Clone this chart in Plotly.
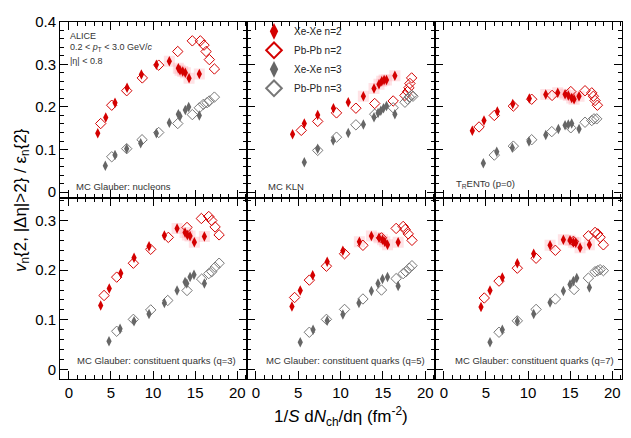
import plotly.graph_objects as go

# ---------------- data ----------------
# Panel order: nucleons, KLN, TRENTo, q=3, q=5, q=7
panel_labels = ["MC Glauber: nucleons", "MC KLN", "T<sub>R</sub>ENTo (p=0)",
                "MC Glauber: constituent quarks (q=3)",
                "MC Glauber: constituent quarks (q=5)",
                "MC Glauber: constituent quarks (q=7)"]

# Xe-Xe n=2
xe2_x = [
    [3.43, 4.38, 5.48, 6.91, 8.61, 10.39, 11.93, 13.0, 13.2, 13.52, 13.83, 14.27, 15.49],
    [4.33, 5.72, 7.30, 9.16, 10.91, 12.69, 13.95, 14.54, 14.86, 15.14, 15.42, 16.41],
    [3.38, 4.77, 6.35, 8.18, 10.15, 12.10, 13.52, 14.39, 14.78, 15.18, 15.46, 16.05],
    [3.78, 4.80, 6.16, 7.74, 9.52, 11.34, 12.85, 13.80, 14.07, 14.39, 14.90, 16.09],
    [4.26, 5.24, 6.71, 8.42, 10.27, 12.22, 13.64, 14.54, 14.95, 15.22, 15.54, 16.80],
    [4.41, 5.48, 6.94, 8.72, 10.67, 12.61, 14.19, 14.98, 15.38, 15.66, 16.17, 17.28],
]
xe2_y = [
    [0.138, 0.175, 0.210, 0.245, 0.276, 0.299, 0.307, 0.291, 0.286, 0.283, 0.280, 0.267, 0.277],
    [0.136, 0.161, 0.181, 0.197, 0.211, 0.225, 0.243, 0.253, 0.260, 0.263, 0.263, 0.273],
    [0.144, 0.168, 0.189, 0.207, 0.220, 0.229, 0.233, 0.230, 0.227, 0.221, 0.218, 0.225],
    [0.129, 0.163, 0.194, 0.225, 0.248, 0.270, 0.284, 0.276, 0.271, 0.269, 0.256, 0.268],
    [0.127, 0.159, 0.190, 0.217, 0.239, 0.257, 0.269, 0.265, 0.261, 0.257, 0.251, 0.256],
    [0.126, 0.159, 0.185, 0.214, 0.233, 0.250, 0.261, 0.260, 0.256, 0.255, 0.245, 0.251],
]
# Pb-Pb n=2
pb2_x = [
    [3.78, 5.09, 6.87, 8.72, 10.67, 12.93, 14.66, 15.61, 16.05, 16.29, 16.68, 17.28],
    [5.36, 7.30, 9.52, 11.81, 14.03, 16.21, 17.60, 17.92, 18.07, 18.19, 18.39],
    [4.18, 5.99, 8.25, 10.43, 12.85, 15.07, 16.76, 17.56, 17.75, 17.95, 18.23],
    [4.18, 5.68, 7.66, 9.72, 11.81, 14.03, 15.73, 16.61, 16.97, 17.36, 17.84],
    [4.57, 6.31, 8.33, 10.47, 12.64, 14.83, 16.56, 17.39, 17.63, 17.99, 18.43],
    [4.80, 6.55, 8.72, 10.95, 13.24, 15.38, 17.16, 17.95, 18.27, 18.55, 18.94],
]
pb2_y = [
    [0.161, 0.204, 0.238, 0.268, 0.298, 0.330, 0.355, 0.355, 0.345, 0.330, 0.311, 0.289],
    [0.145, 0.166, 0.186, 0.197, 0.208, 0.214, 0.227, 0.236, 0.245, 0.255, 0.268],
    [0.153, 0.180, 0.202, 0.218, 0.227, 0.236, 0.238, 0.233, 0.225, 0.215, 0.204],
    [0.149, 0.186, 0.214, 0.242, 0.266, 0.286, 0.304, 0.308, 0.300, 0.287, 0.271],
    [0.145, 0.180, 0.208, 0.233, 0.250, 0.265, 0.284, 0.288, 0.282, 0.273, 0.260],
    [0.144, 0.178, 0.204, 0.224, 0.240, 0.258, 0.269, 0.276, 0.273, 0.266, 0.251],
]
# Xe-Xe n=3
xe3_x = [
    [4.33, 5.48, 6.87, 8.53, 10.39, 11.93, 13.0, 13.2, 13.83, 14.23, 15.49],
    [5.72, 7.30, 9.13, 10.91, 12.69, 13.95, 14.43, 14.75, 15.07, 15.42, 16.41],
    [4.69, 6.28, 8.13, 10.11, 12.10, 13.60, 14.39, 14.78, 15.18, 16.05],
    [4.77, 6.08, 7.74, 9.52, 11.34, 12.85, 13.80, 14.0, 14.39, 14.86, 16.09],
    [5.24, 6.75, 8.42, 10.27, 12.17, 13.64, 14.42, 14.95, 15.54, 16.80],
    [5.48, 6.94, 8.72, 10.67, 12.61, 14.19, 14.98, 15.38, 15.78, 17.28],
]
xe3_y = [
    [0.062, 0.087, 0.102, 0.115, 0.138, 0.163, 0.183, 0.178, 0.193, 0.200, 0.180],
    [0.070, 0.102, 0.121, 0.139, 0.159, 0.176, 0.186, 0.191, 0.197, 0.202, 0.183],
    [0.068, 0.095, 0.104, 0.119, 0.134, 0.148, 0.157, 0.159, 0.161, 0.148],
    [0.057, 0.082, 0.097, 0.112, 0.134, 0.159, 0.176, 0.173, 0.186, 0.191, 0.173],
    [0.055, 0.080, 0.098, 0.111, 0.134, 0.158, 0.173, 0.182, 0.186, 0.168],
    [0.055, 0.080, 0.097, 0.112, 0.135, 0.158, 0.171, 0.178, 0.184, 0.165],
]
# Pb-Pb n=3
pb3_x = [
    [5.09, 6.87, 8.69, 10.67, 12.93, 14.66, 15.49, 15.97, 16.41, 16.68, 17.28],
    [7.30, 9.52, 11.81, 14.03, 16.21, 17.60, 17.92, 18.11, 18.39, 18.55],
    [5.99, 8.25, 10.43, 12.81, 15.07, 16.76, 17.56, 17.83, 18.15],
    [5.68, 7.66, 9.72, 11.74, 14.03, 15.77, 16.61, 16.97, 17.36, 17.84],
    [6.31, 8.33, 10.47, 12.64, 14.83, 16.56, 17.39, 17.71, 18.11, 18.43],
    [6.55, 8.72, 10.95, 13.24, 15.46, 17.16, 17.95, 18.27, 18.55, 18.94],
]
pb3_y = [
    [0.083, 0.102, 0.123, 0.140, 0.161, 0.182, 0.198, 0.206, 0.210, 0.214, 0.223],
    [0.098, 0.129, 0.158, 0.183, 0.198, 0.211, 0.218, 0.223, 0.227, 0.225],
    [0.087, 0.108, 0.123, 0.142, 0.151, 0.164, 0.168, 0.172, 0.172],
    [0.077, 0.101, 0.120, 0.139, 0.159, 0.182, 0.193, 0.197, 0.206, 0.214],
    [0.075, 0.101, 0.121, 0.142, 0.160, 0.183, 0.193, 0.197, 0.204, 0.209],
    [0.075, 0.098, 0.121, 0.142, 0.161, 0.184, 0.197, 0.199, 0.201, 0.199],
]

series_names = ["Xe-Xe n=2", "Pb-Pb n=2", "Xe-Xe n=3", "Pb-Pb n=3"]
x_ticks = [0, 5, 10, 15, 20]
y_ticks_top = [0, 0.1, 0.2, 0.3, 0.4]
y_ticks_bot = [0, 0.1, 0.2, 0.3]

# ---------------- style ----------------
W, H = 631, 438
RED = "#d40000"
GREY = "#666666"
GREY_OPEN = "#777777"
FONT = "Liberation Sans, Arial, sans-serif"

col_px = [(60, 247), (247, 435), (435, 622)]
row_px = [(13, 194), (194, 380)]
xr = [-1.05, 21.15]
yr = [[-0.014, 0.4], [-0.02, 0.345]]

fig = go.Figure()
layout = dict(width=W, height=H, margin=dict(l=0, r=0, t=0, b=0),
              paper_bgcolor="white", plot_bgcolor="white",
              font=dict(family=FONT, color="black"))

for p in range(6):
    r, c = divmod(p, 3)
    idx = p + 1
    xa = "xaxis" if idx == 1 else f"xaxis{idx}"
    ya = "yaxis" if idx == 1 else f"yaxis{idx}"
    xref = "x" if idx == 1 else f"x{idx}"
    yref = "y" if idx == 1 else f"y{idx}"
    x0, x1 = col_px[c]
    y0, y1 = row_px[r]
    yt = y_ticks_top if r == 0 else y_ticks_bot
    layout[xa] = dict(domain=[x0 / W, x1 / W], range=xr, anchor=yref,
                      showline=True, linecolor="black", linewidth=1, mirror="allticks",
                      ticks="inside", ticklen=8, tickcolor="black", tickwidth=1,
                      tickvals=x_ticks, showticklabels=(r == 1),
                      tickfont=dict(size=15, family=FONT),
                      minor=dict(dtick=1, tick0=0, ticks="inside", ticklen=4, tickcolor="black"),
                      showgrid=False, zeroline=False)
    layout[ya] = dict(domain=[1 - y1 / H, 1 - y0 / H], range=yr[r], anchor=xref,
                      showline=True, linecolor="black", linewidth=1, mirror="allticks",
                      ticks="inside", ticklen=8, tickcolor="black", tickwidth=1,
                      tickvals=yt,
                      ticktext=[("0" if v == 0 else f"{v:.1f}") for v in yt],
                      showticklabels=(c == 0),
                      tickfont=dict(size=15, family=FONT),
                      minor=dict(dtick=0.02, tick0=0, ticks="inside", ticklen=4, tickcolor="black"),
                      showgrid=False, zeroline=False)

    # systematic band (pale pink) for Xe-Xe n=2 at high multiplicity
    bx = [v for v in xe2_x[p] if v > 11.5]
    by = [yv for v, yv in zip(xe2_x[p], xe2_y[p]) if v > 11.5]
    fig.add_trace(go.Scatter(x=bx, y=by, mode="markers", xaxis=xref, yaxis=yref,
                             marker=dict(symbol="square", size=11, color="rgba(255,140,150,0.25)",
                                         line=dict(width=0)),
                             showlegend=False, hoverinfo="skip"))
    show = (p == 0)
    fig.add_trace(go.Scatter(x=pb2_x[p], y=pb2_y[p], mode="markers", name=series_names[1],
                             xaxis=xref, yaxis=yref, showlegend=show, legendrank=2,
                             marker=dict(symbol="diamond-open", size=8, color=RED,
                                         line=dict(width=1, color=RED))))
    fig.add_trace(go.Scatter(x=pb3_x[p], y=pb3_y[p], mode="markers", name=series_names[3],
                             xaxis=xref, yaxis=yref, showlegend=show, legendrank=4,
                             marker=dict(symbol="diamond-open", size=8, color=GREY_OPEN,
                                         line=dict(width=1, color=GREY_OPEN))))
    fig.add_trace(go.Scatter(x=xe2_x[p], y=xe2_y[p], mode="markers", name=series_names[0],
                             xaxis=xref, yaxis=yref, showlegend=show, legendrank=1,
                             marker=dict(symbol="diamond-tall", size=7.5, color=RED,
                                         line=dict(width=0))))
    fig.add_trace(go.Scatter(x=xe3_x[p], y=xe3_y[p], mode="markers", name=series_names[2],
                             xaxis=xref, yaxis=yref, showlegend=show, legendrank=3,
                             marker=dict(symbol="diamond-tall", size=7.5, color=GREY,
                                         line=dict(width=0))))

layout["legend"] = dict(x=254 / W, y=1 - 8 / H, xanchor="left", yanchor="top",
                        bgcolor="rgba(0,0,0,0)", font=dict(size=10, family=FONT, color="#222"),
                        tracegroupgap=0, itemwidth=30, itemsizing="constant")
layout["showlegend"] = True

annotations = []
# panel labels
lab_pos = [(74, 182), (266, 182), (454, 179), (75, 361), (264, 361), (453, 361)]
for txt, (lx, ly) in zip(panel_labels, lab_pos):
    annotations.append(dict(text=txt, x=lx / W, y=1 - ly / H, xref="paper", yref="paper",
                            xanchor="left", yanchor="middle", showarrow=False,
                            font=dict(size=9.5, family=FONT, color="#333")))
# ALICE text
for txt, ly in [("ALICE", 28), ("0.2 < <i>p</i><sub>T</sub> < 3.0 GeV/<i>c</i>", 40), ("|η| < 0.8", 53)]:
    annotations.append(dict(text=txt, x=68 / W, y=1 - ly / H, xref="paper", yref="paper",
                            xanchor="left", yanchor="middle", showarrow=False,
                            font=dict(size=9, family=FONT, color="#333")))
# axis titles
annotations.append(dict(text="<i>v</i><sub>n</sub>{2, |Δη|>2} / ε<sub>n</sub>{2}",
                        x=22 / W, y=1 - 196 / H, xref="paper", yref="paper",
                        xanchor="center", yanchor="middle", textangle=-90, showarrow=False,
                        font=dict(size=17, family=FONT)))
annotations.append(dict(text="1/<i>S</i> d<i>N</i><sub>ch</sub>/dη (fm<sup>-2</sup>)",
                        x=341 / W, y=1 - 418 / H, xref="paper", yref="paper",
                        xanchor="center", yanchor="middle", showarrow=False,
                        font=dict(size=17, family=FONT)))
layout["annotations"] = annotations

fig.update_layout(**layout)
fig.write_html("out.html")
